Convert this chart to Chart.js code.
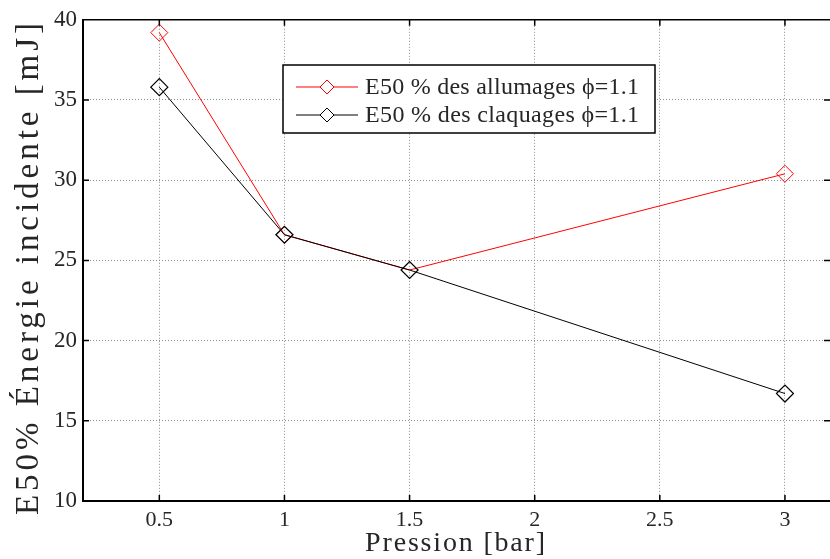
<!DOCTYPE html>
<html>
<head>
<meta charset="utf-8">
<script src="https://cdn.jsdelivr.net/npm/chart.js@4.4.0/dist/chart.umd.min.js"></script>
<style>
  html, body { margin: 0; padding: 0; background: #fff; }
  #wrap { width: 830px; height: 559px; position: relative; }
</style>
</head>
<body>
<div id="wrap"><canvas id="chart" width="830" height="559"></canvas></div>
<script>
// Data
const pression = [0.5, 1, 1.5, 3];
const allumages = [39.2, 26.6, 24.4, 30.4];
const claquages = [35.8, 26.6, 24.4, 16.7];
const xTicks = [0.5, 1, 1.5, 2, 2.5, 3];
const yTicks = [10, 15, 20, 25, 30, 35, 40];
const legendLabels = ['E50 % des allumages \u03d5=1.1', 'E50 % des claquages \u03d5=1.1'];
const xTitle = 'Pression [bar]';
const yTitle = 'E50% \u00c9nergie incidente [mJ]';

const serif = "'Liberation Serif', 'DejaVu Serif', serif";
const txtColor = '#262626';

// draw text stretched to a given width (the original uses a wide Mincho-like face)
function spacedText(ctx, text, x, y, size, width) {
  ctx.font = size + 'px ' + serif;
  ctx.letterSpacing = '0px';
  const w = ctx.measureText(text).width;
  const sp = (width - w) / (text.length - 1);
  ctx.letterSpacing = sp.toFixed(2) + 'px';
  ctx.fillText(text, x, y);
  ctx.letterSpacing = '0px';
}

// MATLAB-like frame: top border, inward ticks, titles, boxed legend
const matlabFrame = {
  id: 'matlabFrame',
  afterDraw(chart) {
    const { ctx, chartArea: a, scales: { x, y } } = chart;
    ctx.save();
    ctx.strokeStyle = '#000';
    ctx.lineWidth = 1.5;
    ctx.beginPath();
    ctx.moveTo(a.left, a.top);
    ctx.lineTo(a.right, a.top);
    xTicks.forEach(v => {
      const px = x.getPixelForValue(v);
      ctx.moveTo(px, a.bottom); ctx.lineTo(px, a.bottom - 6);
      ctx.moveTo(px, a.top); ctx.lineTo(px, a.top + 6);
    });
    yTicks.forEach(v => {
      const py = y.getPixelForValue(v);
      ctx.moveTo(a.left, py); ctx.lineTo(a.left + 6, py);
      ctx.moveTo(a.right, py); ctx.lineTo(a.right - 6, py);
    });
    ctx.stroke();

    // axis titles
    ctx.fillStyle = txtColor;
    ctx.textAlign = 'center';
    ctx.textBaseline = 'middle';
    spacedText(ctx, xTitle, 456, 544, 28, 180);
    ctx.save();
    ctx.translate(29, 267);
    ctx.rotate(-Math.PI / 2);
    spacedText(ctx, yTitle, 0, 0, 33, 492);
    ctx.restore();

    // legend
    const lx = 283, ly = 65, lw = 372, lh = 68;
    ctx.fillStyle = '#fff';
    ctx.fillRect(lx, ly, lw, lh);
    ctx.lineWidth = 1.5;
    ctx.strokeStyle = '#000';
    ctx.strokeRect(lx, ly, lw, lh);
    const colors = ['#ff0000', '#000000'];
    legendLabels.forEach((label, i) => {
      const yy = ly + 22 + i * 28;
      ctx.strokeStyle = colors[i];
      ctx.lineWidth = 1;
      ctx.beginPath();
      ctx.moveTo(lx + 13, yy); ctx.lineTo(lx + 75, yy);
      ctx.stroke();
      const cx = lx + 44, s = 7;
      ctx.beginPath();
      ctx.moveTo(cx, yy - s); ctx.lineTo(cx + s, yy);
      ctx.lineTo(cx, yy + s); ctx.lineTo(cx - s, yy);
      ctx.closePath();
      ctx.fillStyle = '#fff';
      ctx.fill();
      ctx.stroke();
      ctx.fillStyle = txtColor;
      ctx.textAlign = 'left';
      spacedText(ctx, label, lx + 82, yy + 1, 24, 274);
    });
    ctx.restore();
  }
};

new Chart(document.getElementById('chart'), {
  type: 'line',
  data: {
    datasets: [
      {
        label: legendLabels[0],
        data: pression.map((p, i) => ({ x: p, y: allumages[i] })),
        borderColor: '#ff0000',
        backgroundColor: 'rgba(0,0,0,0)',
        borderWidth: 1,
        pointStyle: 'rectRot',
        pointRadius: 8.5,
        pointBorderWidth: 1,
        pointBorderColor: '#ff0000',
        tension: 0,
        order: 2
      },
      {
        label: legendLabels[1],
        data: pression.map((p, i) => ({ x: p, y: claquages[i] })),
        borderColor: '#000000',
        backgroundColor: 'rgba(0,0,0,0)',
        borderWidth: 1,
        pointStyle: 'rectRot',
        pointRadius: 8.5,
        pointBorderWidth: 1.2,
        pointBorderColor: '#000000',
        tension: 0,
        order: 1
      }
    ]
  },
  options: {
    responsive: false,
    animation: false,
    layout: { autoPadding: false, padding: { left: 0, top: 19, right: 0, bottom: 0 } },
    plugins: {
      legend: { display: false },
      tooltip: { enabled: false }
    },
    scales: {
      x: {
        type: 'linear',
        min: 0.195,
        max: 3.18,
        afterBuildTicks: s => { s.ticks = xTicks.map(v => ({ value: v })); },
        afterFit: s => { s.height = 58; },
        border: { color: '#000', width: 2, dash: [1, 2] },
        grid: { color: '#8c8c8c', lineWidth: 1, drawTicks: false },
        ticks: {
          color: txtColor,
          font: { family: serif, size: 22 },
          padding: 6,
          maxRotation: 0,
          callback: v => String(v)
        }
      },
      y: {
        type: 'linear',
        min: 10,
        max: 40,
        afterBuildTicks: s => { s.ticks = yTicks.map(v => ({ value: v })); },
        afterFit: s => { s.width = 83; },
        border: { color: '#000', width: 2, dash: [1, 2] },
        grid: { color: '#8c8c8c', lineWidth: 1, drawTicks: false },
        ticks: {
          color: txtColor,
          font: { family: serif, size: 23 },
          padding: 6,
          callback: v => String(v)
        }
      }
    }
  },
  plugins: [matlabFrame]
});
</script>
</body>
</html>
